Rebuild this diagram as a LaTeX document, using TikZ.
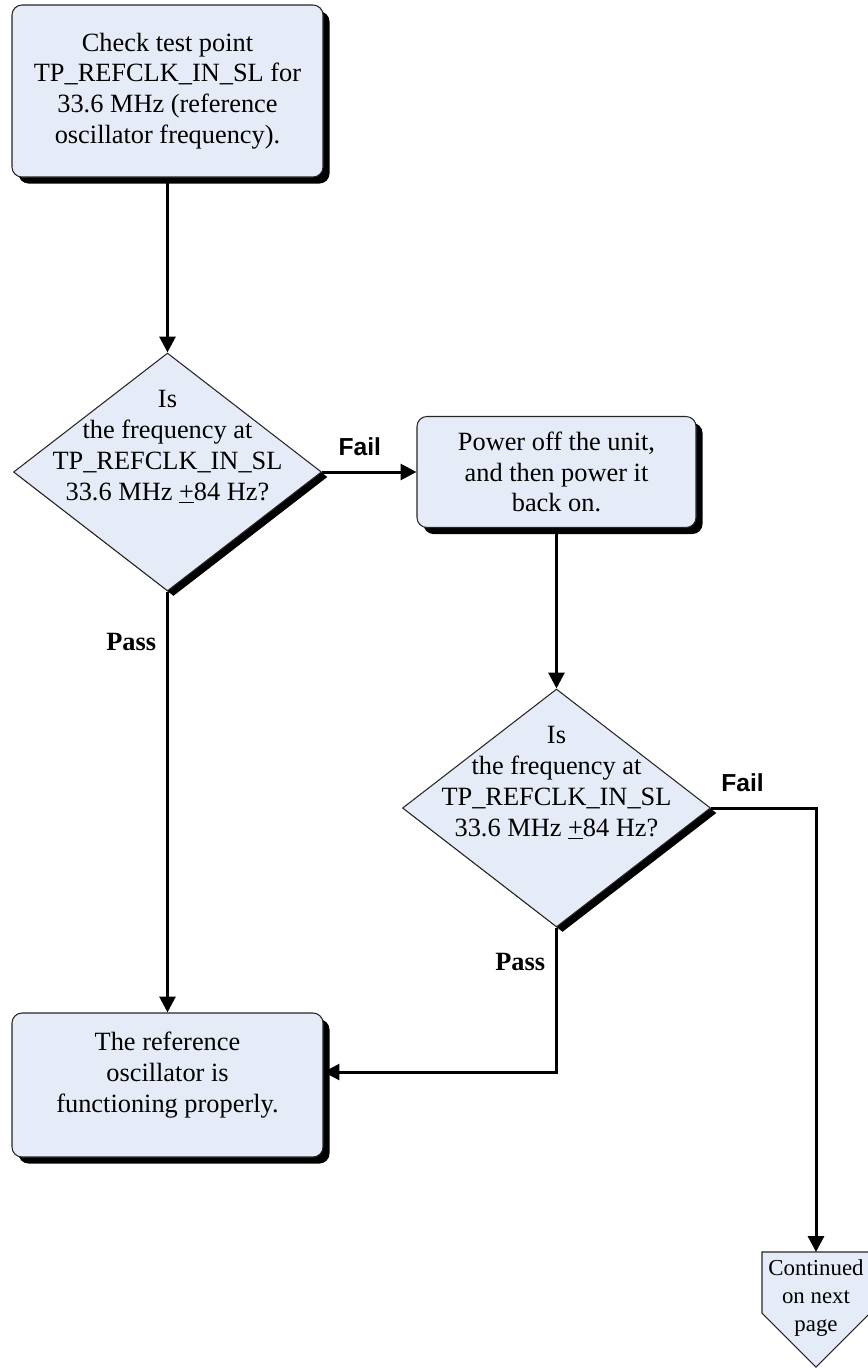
\documentclass[tikz,border=0pt]{standalone}
\usepackage{fontspec}
\setmainfont{Liberation Serif}
\newfontfamily\failfont{Liberation Sans}
\usepackage{tikz}
\usetikzlibrary{shapes.geometric,shadows,arrows.meta,positioning}
\definecolor{boxblue}{RGB}{230,236,247}

\begin{document}
\begin{tikzpicture}[>={Triangle[length=9pt,width=9pt]},line width=1.7pt,
                    font=\fontsize{15}{17.5}\selectfont,
    stepbox/.style={draw=black!85,line width=0.6pt,fill=boxblue,rounded corners=0.2cm,
                    align=center,minimum width=6.22cm,
                    drop shadow={shadow xshift=0.13cm,shadow yshift=-0.13cm,opacity=1,fill=black}},
    decision/.style={shape=diamond,draw=black!85,line width=0.6pt,fill=boxblue,inner sep=0pt,
                    minimum width=6.16cm,minimum height=4.76cm,
                    drop shadow={shadow xshift=0.12cm,shadow yshift=-0.1cm,opacity=1,fill=black}},
    question/.style={align=center,yshift=0.5cm},
    faillbl/.style={font=\failfont\bfseries\fontsize{14}{16}\selectfont},
    passlbl/.style={font=\bfseries\fontsize{15}{17.5}\selectfont}]
  \useasboundingbox (0,0) rectangle (17.34,-27.36);

  \node[stepbox,minimum height=3.44cm] (check) at (3.35,-1.82)
       {Check test point\\TP\_REFCLK\_IN\_SL for\\33.6 MHz (reference\\oscillator frequency).};
  \node[decision] (dia1) [below of=check,node distance=7.62cm]
       [label={[question]center:{Is\\the frequency at\\TP\_REFCLK\_IN\_SL\\33.6 MHz \underline{+}84 Hz?}}] {};
  \node[stepbox,minimum width=5.58cm,minimum height=2.22cm] (power) [right of=dia1,node distance=7.78cm]
       {Power off the unit,\\and then power it\\back on.};
  \node[decision] (dia2) [below of=power,node distance=6.72cm]
       [label={[question]center:{Is\\the frequency at\\TP\_REFCLK\_IN\_SL\\33.6 MHz \underline{+}84 Hz?}}] {};
  \node[stepbox,minimum height=2.88cm] (ok) [below of=dia1,node distance=12.26cm]
       {The reference\\oscillator is\\functioning properly.\\[-3pt]\mbox{}};

  % off-page connector
  \coordinate (conttop) at (16.32,-25.04);
  \draw[draw=black!85,line width=0.6pt,fill=boxblue]
       ([xshift=-1.08cm]conttop) -- ([xshift=1.08cm]conttop) -- ([shift={(1.08,-1.22)}]conttop)
       -- ([yshift=-2.30cm]conttop) -- ([shift={(-1.08,-1.22)}]conttop) -- cycle;
  \node[align=center,font=\fontsize{13}{16}\selectfont] (cont) at (16.32,-25.96) {Continued\\on next\\page};

  \draw[->] (check) -- (dia1);
  \draw[->] (dia1) -- node[faillbl,pos=0.4,above=0.18cm] {Fail} (power);
  \draw[->] (power) -- (dia2);
  \draw[->] (dia1) -- node[passlbl,pos=0.12,left=0.08cm] {Pass} (ok);
  \draw[->] (dia2.south) |- node[passlbl,pos=0.12,left=0.08cm] {Pass} ([yshift=0.26cm]ok.east);
  \draw[->] (dia2.east) -| node[faillbl,pos=0.15,above=0.18cm] {Fail} (conttop);
\end{tikzpicture}
\end{document}
